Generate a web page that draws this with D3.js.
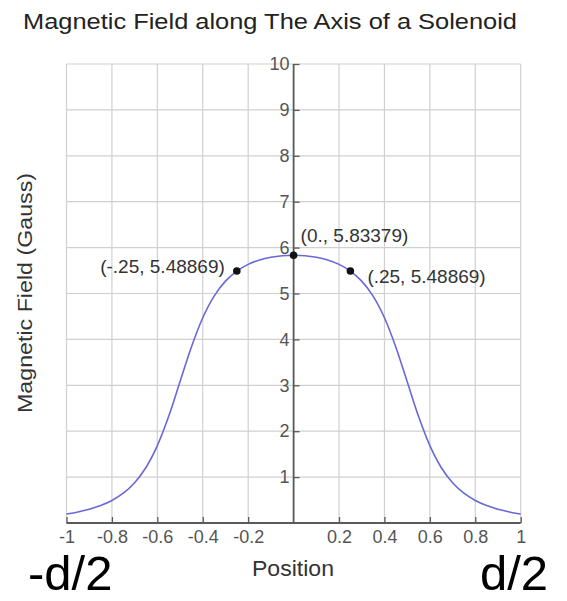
<!DOCTYPE html>
<html>
<head>
<meta charset="utf-8">
<script src="https://cdn.jsdelivr.net/npm/d3@7"></script>
<style>
  body { margin: 0; background: #fff; }
  text { font-family: "Liberation Sans", Arial, sans-serif; }
</style>
</head>
<body>
<div id="chart"></div>
<script>
// field values (position, gauss)
const positions = [-1, -0.95, -0.9, -0.85, -0.8, -0.75, -0.7, -0.65, -0.6, -0.55, -0.5,
  -0.45, -0.4, -0.35, -0.3, -0.25, -0.2, -0.15, -0.1, -0.05, 0,
  0.05, 0.1, 0.15, 0.2, 0.25, 0.3, 0.35, 0.4, 0.45, 0.5,
  0.55, 0.6, 0.65, 0.7, 0.75, 0.8, 0.85, 0.9, 0.95, 1]
const field = [0.197, 0.241, 0.300, 0.380, 0.491, 0.649, 0.877, 1.210, 1.686, 2.324, 3.081,
  3.836, 4.472, 4.943, 5.269, 5.489, 5.635, 5.730, 5.790, 5.823, 5.834,
  5.823, 5.790, 5.730, 5.635, 5.489, 5.269, 4.943, 4.472, 3.836, 3.081,
  2.324, 1.686, 1.210, 0.877, 0.649, 0.491, 0.380, 0.300, 0.241, 0.197]

const markX = [-0.25, 0, 0.25]
const markY = [5.48869, 5.83379, 5.48869]
const markLabels = ["(-.25, 5.48869)", "(0., 5.83379)", "(.25, 5.48869)"]

const xTicks = [-1, -0.8, -0.6, -0.4, -0.2, 0.2, 0.4, 0.6, 0.8, 1]
const yTicks = [1, 2, 3, 4, 5, 6, 7, 8, 9, 10]

const width = 567, height = 601

let svg = d3.select('#chart').append('svg')
  .attr('width', width)
  .attr('height', height)

let x = d3.scaleLinear().domain([-1, 1]).range([66.5, 520.7])
let y = d3.scaleLinear().domain([0, 10]).range([523, 64])

// grid
let grid = svg.append('g').attr('stroke', '#d0d0d0').attr('stroke-width', 1.2)
grid.selectAll('line.v')
  .data(d3.range(-1, 1.01, 0.2))
  .join('line')
  .attr('class', 'v')
  .attr('x1', d => x(d)).attr('x2', d => x(d))
  .attr('y1', y(0)).attr('y2', y(10))
grid.selectAll('line.h')
  .data(d3.range(0, 11, 1))
  .join('line')
  .attr('class', 'h')
  .attr('x1', x(-1)).attr('x2', x(1))
  .attr('y1', d => y(d)).attr('y2', d => y(d))

// axes (ticks on the inner side, labels outside), plain hyphen for minus
let xAxis = svg.append('g')
  .attr('transform', `translate(0,${y(0)})`)
  .call(d3.axisTop(x).tickValues(xTicks).tickSize(6).tickFormat(d => String(d)))
xAxis.selectAll('text').attr('y', 7).attr('dy', '0.71em')

let yAxis = svg.append('g')
  .attr('transform', `translate(${x(0)},0)`)
  .call(d3.axisRight(y).tickValues(yTicks).tickSize(6))
yAxis.selectAll('text').attr('x', -4).attr('text-anchor', 'end')

svg.selectAll('.domain').attr('stroke', '#5a5a5a').attr('stroke-width', 1.8)
svg.selectAll('.tick line').attr('stroke', '#5a5a5a').attr('stroke-width', 1.3)
svg.selectAll('.tick text').attr('fill', '#555').style('font-size', '18px')
  .style('font-family', '"Liberation Sans", Arial, sans-serif')
xAxis.select('.domain').attr('d', `M${x(-1)},0H${x(1)}`)
yAxis.select('.domain').attr('d', `M0,${y(0)}V${y(10)}`)

// field curve
let line = d3.line()
  .x((d, i) => x(positions[i]))
  .y(d => y(d))
  .curve(d3.curveCatmullRom)

svg.append('path')
  .datum(field)
  .attr('d', line)
  .attr('fill', 'none')
  .attr('stroke', '#6868d8')
  .attr('stroke-width', 1.6)

// marked points
svg.selectAll('circle.mark')
  .data(markX)
  .join('circle')
  .attr('class', 'mark')
  .attr('cx', d => x(d))
  .attr('cy', (d, i) => y(markY[i]))
  .attr('r', 3.8)
  .attr('fill', '#111')

const labelDx = [-12, 7, 17]
const labelDy = [-5, -20, 5]
svg.selectAll('text.mark')
  .data(markLabels)
  .join('text')
  .attr('class', 'mark')
  .attr('x', (d, i) => x(markX[i]) + labelDx[i])
  .attr('y', (d, i) => y(markY[i]) + labelDy[i])
  .attr('dy', '0.35em')
  .attr('text-anchor', (d, i) => i == 0 ? 'end' : 'start')
  .attr('fill', '#333')
  .style('font-size', '19px')
  .text(d => d)

// titles
svg.append('text')
  .attr('x', 23).attr('y', 29)
  .attr('textLength', 494)
  .attr('lengthAdjust', 'spacingAndGlyphs')
  .attr('fill', '#222')
  .style('font-size', '22px')
  .text('Magnetic Field along The Axis of a Solenoid')

svg.append('text')
  .attr('transform', 'translate(32,293) rotate(-90)')
  .attr('x', -120)
  .attr('textLength', 240)
  .attr('lengthAdjust', 'spacingAndGlyphs')
  .attr('fill', '#333')
  .style('font-size', '20px')
  .text('Magnetic Field (Gauss)')

svg.append('text')
  .attr('x', 252).attr('y', 576)
  .attr('textLength', 82)
  .attr('lengthAdjust', 'spacingAndGlyphs')
  .attr('fill', '#333')
  .style('font-size', '22px')
  .text('Position')

// end markers, kept just inside the bottom edge
svg.append('text')
  .attr('x', 28).attr('y', 590)
  .attr('fill', '#000')
  .style('font-size', '49px')
  .text('-d/2')

svg.append('text')
  .attr('x', 480).attr('y', 590)
  .attr('fill', '#000')
  .style('font-size', '49px')
  .text('d/2')
</script>
</body>
</html>
